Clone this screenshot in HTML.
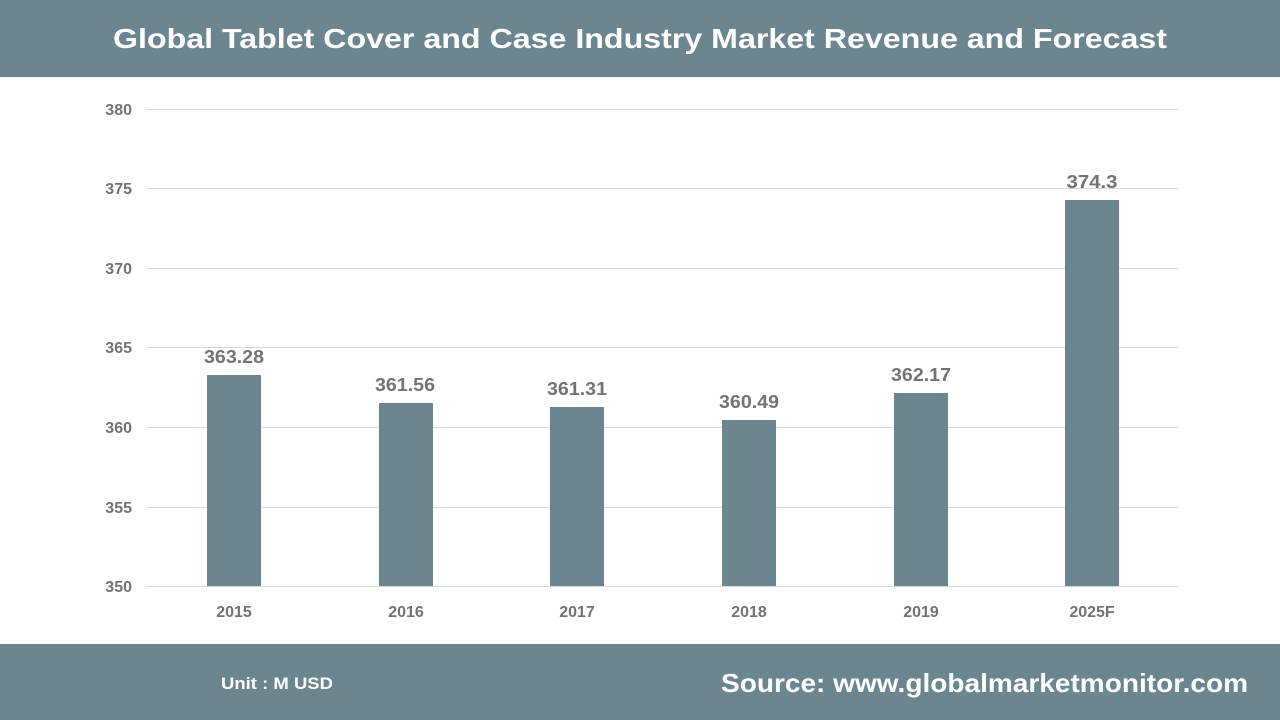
<!DOCTYPE html>
<html>
<head>
<meta charset="utf-8">
<style>
  html,body{margin:0;padding:0;background:#fff;}
  svg{display:block;}
  text{font-family:"Liberation Sans",sans-serif;font-weight:bold;}
</style>
</head>
<body>
<svg width="1280" height="720" viewBox="0 0 1280 720" xmlns="http://www.w3.org/2000/svg">
  <rect x="0" y="0" width="1280" height="720" fill="#ffffff"/>
  <!-- header -->
  <rect x="0" y="0" width="1280" height="77" fill="#6b868e"/>
  <text x="113" y="48" font-size="28" fill="#ffffff" textLength="1054" lengthAdjust="spacingAndGlyphs">Global Tablet Cover and Case Industry Market Revenue and Forecast</text>

  <!-- gridlines -->
  <g stroke="#d9d9d9" stroke-width="1">
    <line x1="147" y1="109.5" x2="1179" y2="109.5"/>
    <line x1="147" y1="188.5" x2="1179" y2="188.5"/>
    <line x1="147" y1="268.5" x2="1179" y2="268.5"/>
    <line x1="147" y1="347.5" x2="1179" y2="347.5"/>
    <line x1="147" y1="427.5" x2="1179" y2="427.5"/>
    <line x1="147" y1="507.5" x2="1179" y2="507.5"/>
    <line x1="147" y1="586.5" x2="1179" y2="586.5"/>
  </g>

  <!-- y tick labels -->
  <g font-size="16" fill="#737373" text-anchor="end">
    <text x="132" y="115">380</text>
    <text x="132" y="194">375</text>
    <text x="132" y="274">370</text>
    <text x="132" y="353">365</text>
    <text x="132" y="433">360</text>
    <text x="132" y="513">355</text>
    <text x="132" y="592">350</text>
  </g>

  <!-- bars -->
  <g fill="#6b868e">
    <rect x="207" y="375" width="54" height="211"/>
    <rect x="379" y="403" width="54" height="183"/>
    <rect x="550" y="407" width="54" height="179"/>
    <rect x="722" y="420" width="54" height="166"/>
    <rect x="894" y="393" width="54" height="193"/>
    <rect x="1065" y="200" width="54" height="386"/>
  </g>

  <!-- data labels -->
  <g font-size="18" fill="#737373" text-anchor="middle">
    <text x="234" y="363" textLength="60" lengthAdjust="spacingAndGlyphs">363.28</text>
    <text x="405" y="391" textLength="60" lengthAdjust="spacingAndGlyphs">361.56</text>
    <text x="577" y="395" textLength="60" lengthAdjust="spacingAndGlyphs">361.31</text>
    <text x="749" y="408" textLength="60" lengthAdjust="spacingAndGlyphs">360.49</text>
    <text x="921" y="381" textLength="60" lengthAdjust="spacingAndGlyphs">362.17</text>
    <text x="1092" y="188" textLength="51" lengthAdjust="spacingAndGlyphs">374.3</text>
  </g>

  <!-- category labels -->
  <g font-size="16" fill="#737373" text-anchor="middle">
    <text x="234" y="617">2015</text>
    <text x="406" y="617">2016</text>
    <text x="577" y="617">2017</text>
    <text x="749" y="617">2018</text>
    <text x="921" y="617">2019</text>
    <text x="1092" y="617">2025F</text>
  </g>

  <!-- footer -->
  <rect x="0" y="644" width="1280" height="76" fill="#6b868e"/>
  <text x="221" y="689" font-size="17" fill="#ffffff" textLength="112" lengthAdjust="spacingAndGlyphs">Unit : M USD</text>
  <text x="721" y="692" font-size="26" fill="#ffffff" textLength="527" lengthAdjust="spacingAndGlyphs">Source: www.globalmarketmonitor.com</text>
</svg>
</body>
</html>
